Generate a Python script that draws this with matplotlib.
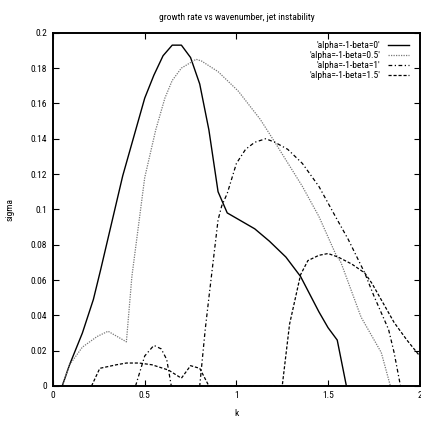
import matplotlib
matplotlib.use("Agg")
from matplotlib import pyplot as plt

plt.rcParams['font.family'] = ['Roboto Condensed', 'Liberation Sans', 'DejaVu Sans']
plt.rcParams['font.size'] = 6.8

# growth rate curves, one per beta
k_beta0 = [0.05, 0.09, 0.16, 0.22, 0.26, 0.38, 0.50, 0.55, 0.60, 0.65, 0.70, 0.75, 0.80,
           0.85, 0.90, 0.95, 1.05, 1.10, 1.18, 1.27, 1.35, 1.45, 1.50, 1.55, 1.60]
s_beta0 = [0.0, 0.012, 0.030, 0.049, 0.066, 0.119, 0.163, 0.176, 0.187, 0.193, 0.193, 0.186, 0.171,
           0.145, 0.110, 0.098, 0.092, 0.089, 0.082, 0.073, 0.062, 0.042, 0.033, 0.026, 0.0]

k_beta05 = [0.05, 0.09, 0.16, 0.24, 0.30, 0.40, 0.43, 0.50, 0.56, 0.61, 0.65, 0.70, 0.78, 0.81,
            0.90, 1.01, 1.13, 1.21, 1.36, 1.45, 1.54, 1.57, 1.68, 1.79, 1.84]
s_beta05 = [0.0, 0.012, 0.022, 0.028, 0.031, 0.025, 0.062, 0.118, 0.145, 0.163, 0.173, 0.180, 0.185, 0.184,
            0.178, 0.167, 0.151, 0.138, 0.113, 0.096, 0.075, 0.070, 0.039, 0.019, 0.0]

k_beta1 = [0.45, 0.50, 0.55, 0.59, 0.62, 0.645, 0.80, 0.83, 0.85, 0.90, 0.92, 0.95, 1.00, 1.05,
           1.10, 1.16, 1.21, 1.28, 1.36, 1.45, 1.54, 1.61, 1.70, 1.75, 1.83, 1.86, 1.895]
s_beta1 = [0.0, 0.017, 0.023, 0.021, 0.015, 0.0, 0.0, 0.032, 0.050, 0.094, 0.102, 0.109, 0.126, 0.134,
           0.138, 0.140, 0.138, 0.134, 0.126, 0.113, 0.096, 0.083, 0.064, 0.051, 0.032, 0.019, 0.0]

k_beta15 = [0.21, 0.255, 0.345, 0.40, 0.47, 0.54, 0.63, 0.70, 0.75, 0.80, 0.85, 1.25, 1.29, 1.32,
            1.35, 1.39, 1.45, 1.50, 1.555, 1.63, 1.70, 1.74, 1.86, 1.93, 2.0]
s_beta15 = [0.0, 0.010, 0.012, 0.013, 0.013, 0.012, 0.009, 0.0044, 0.0115, 0.010, 0.0, 0.0, 0.035, 0.049,
            0.063, 0.071, 0.074, 0.075, 0.073, 0.069, 0.064, 0.058, 0.036, 0.026, 0.017]

labels = ["'alpha=-1-beta=0'", "'alpha=-1-beta=0.5'", "'alpha=-1-beta=1'", "'alpha=-1-beta=1.5'"]
xticks = [0, 0.5, 1, 1.5, 2]
yticks = [0, 0.02, 0.04, 0.06, 0.08, 0.1, 0.12, 0.14, 0.16, 0.18, 0.2]

fig = plt.figure(figsize=(4.21, 4.23), dpi=100)
ax = fig.add_axes([0.126, 0.0875, 0.871, 0.835])

ax.plot(k_beta0, s_beta0, color='black', lw=1.0, label=labels[0])
ax.plot(k_beta05, s_beta05, color='#777777', lw=0.9, linestyle=(0, (1, 1)), label=labels[1])
ax.plot(k_beta1, s_beta1, color='black', lw=0.9, linestyle=(0, (3, 2, 1, 2)), label=labels[2])
ax.plot(k_beta15, s_beta15, color='black', lw=0.9, linestyle=(0, (2.5, 1.5)), label=labels[3])

ax.set_xlim(0, 2)
ax.set_ylim(0, 0.2)
ax.set_xticks(xticks)
ax.set_xticklabels(['%g' % v for v in xticks])
ax.set_yticks(yticks)
ax.set_yticklabels(['%g' % v for v in yticks])
ax.tick_params(direction='in', top=True, right=True, length=4, width=0.8, labelsize=6.8)
ax.tick_params(axis='y', pad=4.3)
ax.tick_params(axis='x', pad=3.6)
for sp in ax.spines.values():
    sp.set_linewidth(1.4)

ax.set_title('growth rate vs wavenumber, jet instability', fontsize=6.8, pad=9.5)
ax.set_xlabel('k', fontsize=6.8)
ax.set_ylabel('sigma', fontsize=6.8)
ax.xaxis.set_label_coords(0.5, -0.065)
ax.yaxis.set_label_coords(-0.106, 0.5)

leg = ax.legend(loc='upper right', markerfirst=False, frameon=False, fontsize=6.8,
                handlelength=2.2, handletextpad=0.85, labelspacing=0.1,
                bbox_to_anchor=(0.981, 0.987), borderaxespad=0)

fig.savefig('out.png', dpi=100)
